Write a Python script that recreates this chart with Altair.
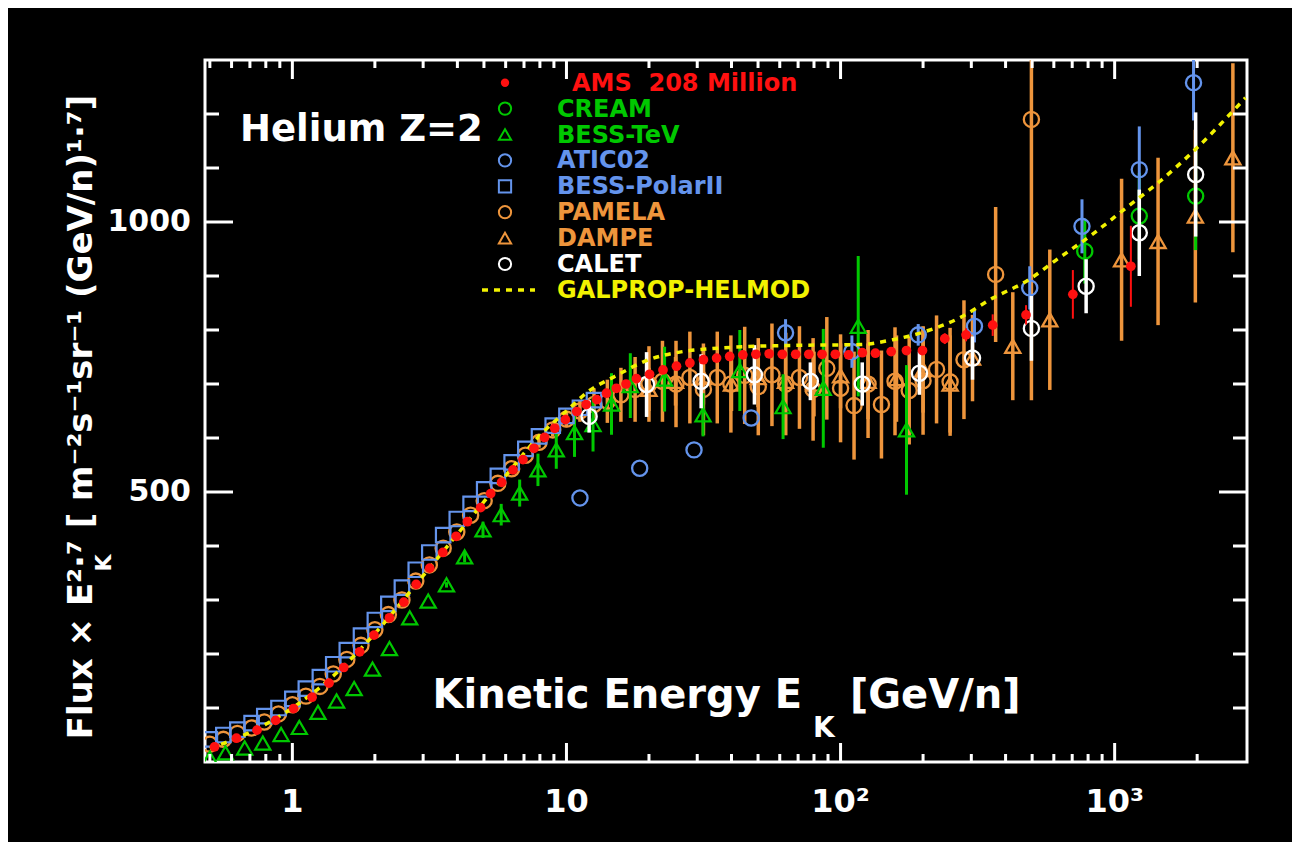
import altair as alt
import pandas as pd

# ---------------- data ----------------
AMS_E = [0.52, 0.625, 0.743, 0.869, 1.01, 1.18, 1.36, 1.54, 1.76, 1.985, 2.26, 2.55, 2.83, 3.17, 3.54,
         3.96, 4.35, 4.86, 5.29, 5.80, 6.38, 6.94, 7.61, 8.32, 9.06, 9.91, 10.9, 11.8, 12.9, 14.0,
         15.2, 16.5, 18.0, 20.1, 22.5, 25.2, 28.2, 31.6, 35.3, 39.4, 44.0, 49.1, 54.9, 61.3, 68.6,
         76.6, 85.6, 95.7, 107, 120, 134, 153, 174, 199, 240, 287, 359, 475, 704, 1146]
AMS_V = [28, 44, 59, 77, 99, 120, 146, 175, 204, 235, 267, 296, 329, 359, 388,
         418, 445, 471, 497, 518, 541, 560, 581, 601, 618, 634, 649, 662, 671, 683,
         692, 700, 710, 718, 726, 733, 739, 745, 748, 751, 754, 755, 756, 755, 755,
         755, 755, 755, 754, 758, 757, 760, 762, 762, 784, 791, 809, 828, 866, 918]
AMS_ERR = [0] * 52 + [5, 6, 10, 12, 20, 18, 45, 75]

GAL_E = [0.5, 0.7, 1, 1.5, 2, 3, 4, 5, 6, 8, 10, 12, 15, 20, 26.5, 33, 50, 80, 117, 155,
         206, 271, 359, 475, 625, 829, 1100, 1460, 1938, 3000]
GAL_V = [25, 55, 100, 172, 238, 345, 422, 482, 530, 605, 650, 686, 714, 745, 760, 765, 770, 772, 773, 782,
         798, 822, 859, 890, 933, 977, 1026, 1075, 1131, 1230]

BP_E = [0.5, 0.56, 0.63, 0.71, 0.79, 0.89, 1.0, 1.12, 1.26, 1.41, 1.58, 1.78, 2.0, 2.24, 2.51,
        2.82, 3.16, 3.55, 3.98, 4.47, 5.01, 5.62, 6.31, 7.08, 7.94, 8.91, 10.0, 11.2, 12.6]
BP_V = [42, 50, 60, 72, 85, 100, 117, 136, 157, 181, 207, 234, 263, 293, 323,
        356, 388, 420, 450, 478, 505, 530, 555, 580, 603, 623, 641, 656, 670]
BP_ERR = [0] * 29

BT_E = [0.5, 0.57, 0.67, 0.78, 0.91, 1.06, 1.24, 1.45, 1.68, 1.96, 2.26, 2.68, 3.13, 3.65, 4.25,
        4.96, 5.78, 6.75, 7.87, 9.18, 10.7, 12.5, 14.6, 17.1, 22.8, 31.5, 42.9, 61.7, 86.5, 116, 174]
BT_V = [7, 17, 26, 35, 51, 64, 92, 113, 136, 172, 210, 267, 298, 328, 380,
        430, 458, 498, 541, 578, 610, 625, 663, 697, 709, 643, 725, 658, 692, 807, 615]
BT_ERR = [0] * 13 + [5, 10, 15, 20, 25, 30, 35, 45, 50, 57, 60, 60, 40, 75, 60, 110, 130, 120]

PM_E = [0.5, 0.56, 0.63, 0.71, 0.79, 0.89, 1.0, 1.12, 1.26, 1.41, 1.58, 1.78, 2.0, 2.24, 2.51,
        2.82, 3.16, 3.55, 3.98, 4.47, 5.01, 5.62, 6.31, 7.08, 7.94, 8.91, 10.0,
        11.2, 12.6, 14.1, 15.8, 17.8, 20.0, 22.4, 25.1, 28.2, 31.6, 35.5, 39.8, 44.7, 50.1, 56.2,
        63.1, 70.8, 79.4, 89.1, 100, 112, 126, 141, 158, 178, 200, 224, 251, 282, 368, 497]
PM_V = [33, 42, 53, 63, 74, 89, 106, 122, 140, 163, 190, 216, 245, 273, 300,
        335, 365, 396, 426, 457, 484, 516, 543, 568, 592, 615, 635,
        650, 662, 668, 680, 690, 700, 705, 700, 712, 690, 712, 700, 716, 695, 717,
        700, 712, 690, 729, 692, 660, 700, 662, 705, 688, 706, 727, 704, 745, 903, 1190]
PM_ERR = [0] * 24 + [10, 12, 15, 20, 30, 40, 50, 60, 70, 75, 80, 85, 85, 85, 90, 90, 90, 95, 95, 95,
                     95, 95, 100, 100, 100, 100, 100, 100, 100, 100, 100, 110, 125, 520]

DM_E = [20, 25, 31.6, 40, 50, 63, 80, 100, 126, 160, 200, 251, 303, 425, 580, 1060, 1440, 1970, 2700]
DM_V = [690, 705, 712, 700, 712, 705, 700, 715, 705, 710, 727, 700, 748, 770, 819, 930, 964, 1011, 1119]
DM_ERR = [40, 45, 50, 50, 55, 55, 60, 60, 70, 80, 80, 90, 80, 100, 130, 150, 155, 160, 175]

CL_E = [12.1, 19.6, 31, 48.5, 77.6, 120, 194, 303, 497, 787, 1230, 1975]
CL_V = [640, 699, 705, 717, 705, 700, 720, 748, 803, 881, 980, 1088]
CL_ERR = [30, 60, 50, 55, 35, 40, 40, 40, 60, 50, 80, 115]

AT_E = [11.2, 18.5, 29.2, 47.2, 63, 110, 192, 308, 490, 760, 1230, 1940]
AT_V = [489, 544, 578, 637, 795, 760, 791, 807, 878, 992, 1097, 1258]
AT_ERR = [0, 0, 0, 0, 25, 30, 20, 30, 40, 50, 80, 70]

CR_E = [778, 1230, 1975]
CR_V = [946, 1011, 1048]
CR_ERR = [60, 80, 100]

Y_MINOR = [100, 200, 300, 400, 600, 700, 800, 900, 1100, 1200]
Y_MAJOR = [500, 1000]
Y_LABELS = ["500", "1000"]
X_MINOR = [0.5, 0.6, 0.7, 0.8, 0.9, 2, 3, 4, 5, 6, 7, 8, 9, 20, 30, 40, 50, 60, 70, 80, 90,
           200, 300, 400, 500, 600, 700, 800, 900, 2000]
X_MAJOR = [1, 10, 100, 1000]
X_LABELS = ["1", "10", "10\u00b2", "10\u00b3"]

LEG_NAMES = ["AMS\u00a0 208 Million", "CREAM", "BESS-TeV", "ATIC02", "BESS-PolarII",
             "PAMELA", "DAMPE", "CALET", "GALPROP-HELMOD"]

RED, GREEN, BLUE, ORANGE, WHITE, YELLOW = "#ff1010", "#00c800", "#6494ec", "#ee953c", "#ffffff", "#f2f200"
FONT = "DejaVu Sans"

W, H = 1042, 702
X_SCALE = alt.Scale(type="log", domain=[0.48, 3040], nice=False)
Y_SCALE = alt.Scale(domain=[0, 1300], nice=False, zero=False)


def frame(E, V, ERR):
    return pd.DataFrame({"E": E, "v": V, "err": ERR})


def series(df, color, shape, filled, size, sw, bw):
    base = alt.Chart(df)
    bars = base.transform_filter("datum.err > 0").transform_calculate(
        lo="datum.v - datum.err", hi="datum.v + datum.err"
    ).mark_rule(color=color, strokeWidth=bw, clip=True).encode(
        x=alt.X("E:Q", scale=X_SCALE, axis=None),
        y=alt.Y("lo:Q", scale=Y_SCALE, axis=None),
        y2="hi:Q",
    )
    pts = base.mark_point(shape=shape, filled=filled, color=color, size=size,
                          strokeWidth=sw, opacity=1, clip=True).encode(
        x=alt.X("E:Q", scale=X_SCALE, axis=None),
        y=alt.Y("v:Q", scale=Y_SCALE, axis=None),
    )
    return [bars, pts]


layers = []
layers += series(frame(PM_E, PM_V, PM_ERR), ORANGE, "circle", False, 230, 2.3, 3.5)
layers += series(frame(DM_E, DM_V, DM_ERR), ORANGE, "triangle-up", False, 230, 2.3, 3.5)
layers += series(frame(BT_E, BT_V, BT_ERR), GREEN, "triangle-up", False, 230, 2.2, 3)
layers += series(frame(CR_E, CR_V, CR_ERR), GREEN, "circle", False, 230, 2.3, 3)
layers += series(frame(AT_E, AT_V, AT_ERR), BLUE, "circle", False, 230, 2.3, 3)
layers += series(frame(BP_E, BP_V, BP_ERR), BLUE, "square", False, 210, 2.2, 3)
layers += series(frame(CL_E, CL_V, CL_ERR), WHITE, "circle", False, 230, 2.3, 3.5)

gal = alt.Chart(pd.DataFrame({"E": GAL_E, "v": GAL_V})).mark_line(
    color=YELLOW, strokeWidth=3.5, strokeDash=[6, 6], clip=True, interpolate="monotone"
).encode(x=alt.X("E:Q", scale=X_SCALE, axis=None), y=alt.Y("v:Q", scale=Y_SCALE, axis=None))
layers.append(gal)

layers += series(frame(AMS_E, AMS_V, AMS_ERR), RED, "circle", True, 95, 0, 2)

# ---- inward ticks on all four sides ----
for vals, ln in ((Y_MINOR, 14), (Y_MAJOR, 28)):
    d = pd.DataFrame({"t": vals})
    for x0, x1 in ((0, ln), (W, W - ln)):
        layers.append(alt.Chart(d).mark_rule(color="white", strokeWidth=3).encode(
            y=alt.Y("t:Q", scale=Y_SCALE, axis=None), x=alt.value(x0), x2=alt.value(x1)))
for vals, ln in ((X_MINOR, 8), (X_MAJOR, 19)):
    d = pd.DataFrame({"t": vals})
    for y0, y1 in ((H, H - ln), (0, ln)):
        layers.append(alt.Chart(d).mark_rule(color="white", strokeWidth=3).encode(
            x=alt.X("t:Q", scale=X_SCALE, axis=None), y=alt.value(y0), y2=alt.value(y1)))

# ---- tick labels ----
layers.append(alt.Chart(pd.DataFrame({"t": X_MAJOR, "lab": X_LABELS})).mark_text(
    font=FONT, fontSize=32, fontWeight="bold", color="white", align="center", baseline="middle"
).encode(x=alt.X("t:Q", scale=X_SCALE, axis=None), y=alt.value(H + 40), text="lab:N"))
layers.append(alt.Chart(pd.DataFrame({"t": Y_MAJOR, "lab": Y_LABELS})).mark_text(
    font=FONT, fontSize=30, fontWeight="bold", color="white", align="right", baseline="middle"
).encode(y=alt.Y("t:Q", scale=Y_SCALE, axis=None), x=alt.value(-14), text="lab:N"))

# ---- legend drawn inside the plot ----
leg_colors = [RED, GREEN, GREEN, BLUE, BLUE, ORANGE, ORANGE, WHITE, YELLOW]
leg_shapes = ["circle", "circle", "triangle-up", "circle", "square", "circle", "triangle-up", "circle", None]
for i, name in enumerate(LEG_NAMES):
    yy = 22.7 + 25.9 * i
    d = pd.DataFrame({"label": [name]})
    if leg_shapes[i] is None:
        layers.append(alt.Chart(d).mark_rule(color=YELLOW, strokeWidth=3.5, strokeDash=[6, 6]).encode(
            x=alt.value(277), x2=alt.value(330), y=alt.value(yy)))
    else:
        filled = i == 0
        layers.append(alt.Chart(d).mark_point(shape=leg_shapes[i], filled=filled, color=leg_colors[i],
                                              size=70 if filled else 150, strokeWidth=2, opacity=1).encode(
            x=alt.value(300), y=alt.value(yy)))
    layers.append(alt.Chart(d).mark_text(font=FONT, fontSize=24, fontWeight="bold", color=leg_colors[i],
                                         align="left", baseline="middle").encode(
        text="label:N", x=alt.value(367 if i == 0 else 352), y=alt.value(yy + 1)))


# ---- annotations / titles ----
def label(txt, x, y, size, align="left", baseline="alphabetic", angle=0):
    return alt.Chart(pd.DataFrame({"t": [txt]})).mark_text(
        font=FONT, fontSize=size, fontWeight="bold", color="white",
        align=align, baseline=baseline, angle=angle).encode(
        text="t:N", x=alt.value(x), y=alt.value(y))


layers.append(label("Helium Z=2", 35, 81, 37))
layers.append(label("Kinetic Energy E", 597, 648, 40, align="right"))
layers.append(label("K", 608, 677, 28))
layers.append(label("[GeV/n]", 645, 648, 40))
layers.append(label("Flux \u00d7 E\u00b2\u00b7\u2077 [ m\u207b\u00b2s\u207b\u00b9sr\u207b\u00b9 (GeV/n)\u00b9\u00b7\u2077]",
                    -123, 357, 34, align="center", baseline="middle", angle=270))
layers.append(label("K", -101, 503, 22, align="center", baseline="middle", angle=270))

chart = alt.layer(*layers).properties(
    width=W, height=H,
    autosize=alt.AutoSizeParams(type="none"),
    padding={"left": 197, "top": 52, "right": 45, "bottom": 80},
    background="black",
).configure_view(stroke="white", strokeWidth=3)

chart.save("out.html", embed_options={"renderer": "svg", "actions": False})
